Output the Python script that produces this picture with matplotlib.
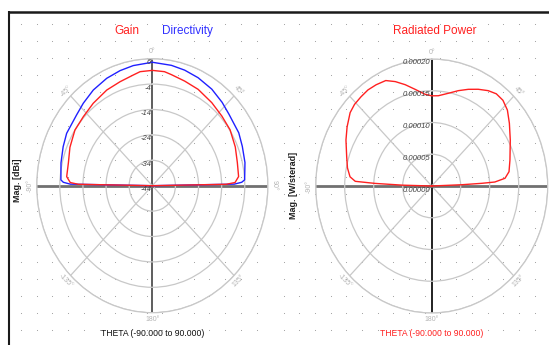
import numpy as np
import matplotlib
matplotlib.use("Agg")
import matplotlib.pyplot as plt
from matplotlib import transforms

plt.rcParams['font.family'] = ['Liberation Sans', 'DejaVu Sans']

# Directivity [dBi] vs THETA [deg]
theta_dir = [-90, -89, -88, -86.7, -77.2, -68.3, -60.9, -49.6, -42.6, -34.1, -25, -17.1,
             -9.9, 0, 9.9, 17.1, 25, 34.1, 42.6, 49.6, 60.9, 68.3, 77.2, 86.7, 88, 89, 90]
directivity = [-44, -8.5, -5.5, -4.4, -3.5, -2.5, -1.6, -1.0, 0.1, 1.5, 2.65, 3.4,
               4.0, 4.6, 4.1, 3.6, 2.9, 1.9, 0.6, -0.5, -1.2, -2.1, -2.9, -4.0, -5.3, -8.5, -44]

# Gain [dBi] vs THETA [deg]
theta_gain = [-90, -89, -88, -84.5, -76, -67, -56.8, -47.7, -38.2, -27.6, -18.8, -10.7,
              -6.7, 0, 6.7, 10.7, 18.8, 27.6, 38.2, 47.7, 56.8, 67, 76, 84.5, 88, 89, 90]
gain = [-44, -12, -8.5, -6.8, -6.6, -5.3, -4.0, -3.65, -2.7, -1.5, -0.75, 0.35,
        1.2, 1.4, 1.2, 0.5, -0.5, -1.2, -2.4, -3.3, -3.8, -5.0, -6.1, -6.5, -8.2, -12, -44]

# Radiated power [W/sterad] vs THETA [deg]
theta_pw = [-90, -88.5, -87.6, -86.8, -84.1, -78.9, -72.5, -63.9, -57.5, -50.6, -46, -41,
            -36, -31, -25.5, -20.9, -16, -10.7, -4.6, 0, 4.6, 11.1, 17, 22.5, 27.8, 33,
            37.5, 42.3, 47.5, 53.6, 61.9, 73.1, 80.4, 84.5, 86.7, 87.2, 87.8, 90]
rad_power = [0.0, 0.00005, 0.000098, 0.000132, 0.0001416, 0.000148, 0.0001537, 0.0001646,
             0.0001730, 0.000182, 0.000185, 0.000186, 0.000187, 0.000186, 0.000184,
             0.000176, 0.000166, 0.000155, 0.000145, 0.000142, 0.0001426, 0.0001488,
             0.000157, 0.0001648, 0.0001722, 0.000179, 0.000183, 0.0001825, 0.000177,
             0.0001664, 0.0001536, 0.000141, 0.0001352, 0.000127, 0.000109, 0.0000864,
             0.0000518, 0.0]

db_rings = [-34, -24, -14, -4, 6]
db_labels = ['-44', '-34', '-24', '-14', '-4', '6']
pw_rings = [0.00005, 0.00010, 0.00015, 0.00020]
pw_labels = ['0.00000', '0.00005', '0.00010', '0.00015', '0.00020']
spoke_deg = [0, 45, 90, 135, 180, 225, 270, 315]
spoke_labels = ['0°', '45°', '90°', '135°', '180°', '-135°', '-90°', '-45°']

W, H = 549, 345
fig = plt.figure(figsize=(W / 100, H / 100), dpi=100)
fig.patch.set_facecolor('white')

# background: dotted grid and window frame
bg = fig.add_axes([0, 0, 1, 1])
bg.set_xlim(0, W)
bg.set_ylim(H, 0)
bg.axis('off')
rows = np.arange(24, H, 17.0)
for cols in (np.arange(21, 272, 15.7), np.arange(283.5, W, 15.7)):
    gx, gy = np.meshgrid(cols, rows)
    bg.scatter(gx.ravel(), gy.ravel(), s=0.6, color='#9a9a9a', lw=0)
bg.plot([8, W], [11.5, 11.5], color='#1a1a1a', lw=1.8, solid_capstyle='butt')
bg.plot([8.5, 8.5], [11, H], color='#1a1a1a', lw=1.5, solid_capstyle='butt')


def polar_panel(cx, cy, rx, ry, rmin, rmax, rings, rlabels, axis_color, skip=()):
    rect = [(cx - rx) / W, 1 - (cy + ry) / H, 2 * rx / W, 2 * ry / H]
    ax = fig.add_axes(rect, projection='polar')
    ax.set_aspect('auto')
    ax.patch.set_alpha(0)
    ax.set_theta_zero_location('N')
    ax.set_theta_direction(-1)
    ax.set_ylim(rmin, rmax)
    ax.set_yticks(rings)
    ax.set_yticklabels([])
    ax.set_xticks(np.deg2rad(spoke_deg))
    ax.set_xticklabels([])
    ax.tick_params(length=0)
    ax.yaxis.grid(True, color='#c8c8c8', lw=0.9)
    for ang, gl in zip(spoke_deg, ax.xaxis.get_gridlines()):
        if ang in (0, 180):
            gl.set_color(axis_color)
            gl.set_linewidth(1.3)
        elif ang in (90, 270):
            gl.set_color('#707070')
            gl.set_linewidth(2.0)
        else:
            gl.set_color('#c8c8c8')
            gl.set_linewidth(0.9)
        gl.set_linestyle('-')
    ax.spines['polar'].set_color('#c8c8c8')
    ax.spines['polar'].set_linewidth(0.9)

    # spoke angle labels just outside the outer ring
    r_out = rmax + 0.055 * (rmax - rmin)
    for ang, lab in zip(spoke_deg, spoke_labels):
        if ang in skip:
            continue
        rot = -ang if ang <= 90 or ang >= 270 else 180 - ang
        ax.text(np.deg2rad(ang), r_out, lab, fontsize=5, color='#b4b4b4',
                ha='center', va='center', rotation=rot, rotation_mode='anchor')

    # magnitude labels along the 0° spoke
    off = transforms.offset_copy(ax.transData, fig=fig, x=-1, y=-4, units='dots')
    for r, lab in zip([rmin] + list(rings), rlabels):
        ax.text(0, r, lab, transform=off, fontsize=5.5, color='#404040',
                ha='right', va='center', style='italic')
    return ax


ax1 = polar_panel(152.3, 185.7, 115.6, 127, -44, 6, db_rings, db_labels, '#505050')
ax1.plot(np.deg2rad(theta_dir), directivity, color='#2020ff', lw=1.0)
ax1.plot(np.deg2rad(theta_gain), gain, color='#ff2020', lw=1.0)

ax2 = polar_panel(431.7, 186, 116, 127, 0, 0.0002, pw_rings, pw_labels, '#101010',
                  skip=(90,))
ax2.plot(np.deg2rad(theta_pw), rad_power, color='#ff2020', lw=1.0)

# titles and axis captions
bg.text(127, 31, 'Gain', color='#ff2020', fontsize=8.5, ha='center', va='center')
bg.text(187, 31, 'Directivity', color='#3030ff', fontsize=8.5, ha='center', va='center')
bg.text(435, 31, 'Radiated Power', color='#ff2020', fontsize=8.5, ha='center', va='center')
bg.text(17, 180, 'Mag. [dBi]', rotation=90, fontsize=6.5, fontweight='bold',
        color='#202020', ha='center', va='center')
bg.text(294, 185, 'Mag. [W/sterad]', rotation=90, fontsize=6.5, fontweight='bold',
        color='#202020', ha='center', va='center')
bg.text(153, 334, 'THETA (-90.000 to 90.000)', fontsize=6.2, color='#101010',
        ha='center', va='center')
bg.text(432, 334, 'THETA (-90.000 to 90.000)', fontsize=6.2, color='#ff2020',
        ha='center', va='center')

fig.savefig('out.png', dpi=100)
